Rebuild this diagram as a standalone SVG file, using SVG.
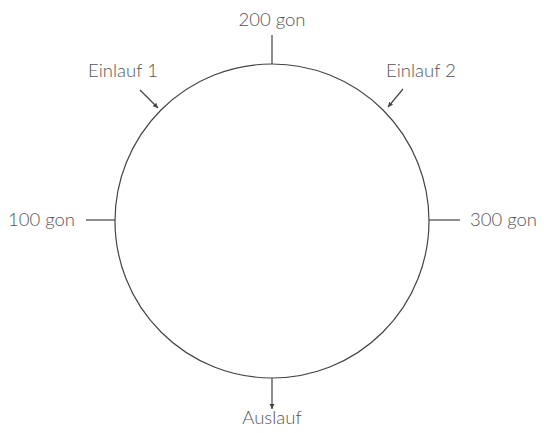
<svg xmlns="http://www.w3.org/2000/svg" width="544" height="433" viewBox="0 0 544 433">
<style>
.t{font-family:Lato,"Liberation Sans",sans-serif;font-weight:300;font-size:18.5px;fill:#555}
.l{stroke:#444;stroke-width:1.2;fill:none}
</style>
<defs>
<marker id="ah" markerWidth="6" markerHeight="6" refX="5" refY="3" orient="auto" markerUnits="userSpaceOnUse">
<path d="M0,0.5 L5,3 L0,5.5 z" fill="#444"/>
</marker>
</defs>
<rect width="544" height="433" fill="#fff"/>
<g id="circle"><circle cx="272" cy="221" r="157" class="l"/></g>
<g id="connectors">
<line x1="272" y1="35" x2="272" y2="64" class="l"/>
<line x1="86" y1="220" x2="115" y2="220" class="l"/>
<line x1="429" y1="220" x2="460" y2="220" class="l"/>
<line x1="272" y1="378" x2="272" y2="409" class="l" marker-end="url(#ah)"/>
<line x1="140" y1="90" x2="158" y2="108" class="l" marker-end="url(#ah)"/>
<line x1="403" y1="89" x2="388" y2="107" class="l" marker-end="url(#ah)"/>
</g>
<g id="n200"><text class="t" x="272" y="26" text-anchor="middle">200 gon</text></g>
<g id="e1"><text class="t" x="88" y="77">Einlauf 1</text></g>
<g id="e2"><text class="t" x="386" y="77">Einlauf 2</text></g>
<g id="n100"><text class="t" x="8" y="226">100 gon</text></g>
<g id="n300"><text class="t" x="470" y="226">300 gon</text></g>
<g id="aus"><text class="t" x="272" y="424" text-anchor="middle">Auslauf</text></g>
</svg>
